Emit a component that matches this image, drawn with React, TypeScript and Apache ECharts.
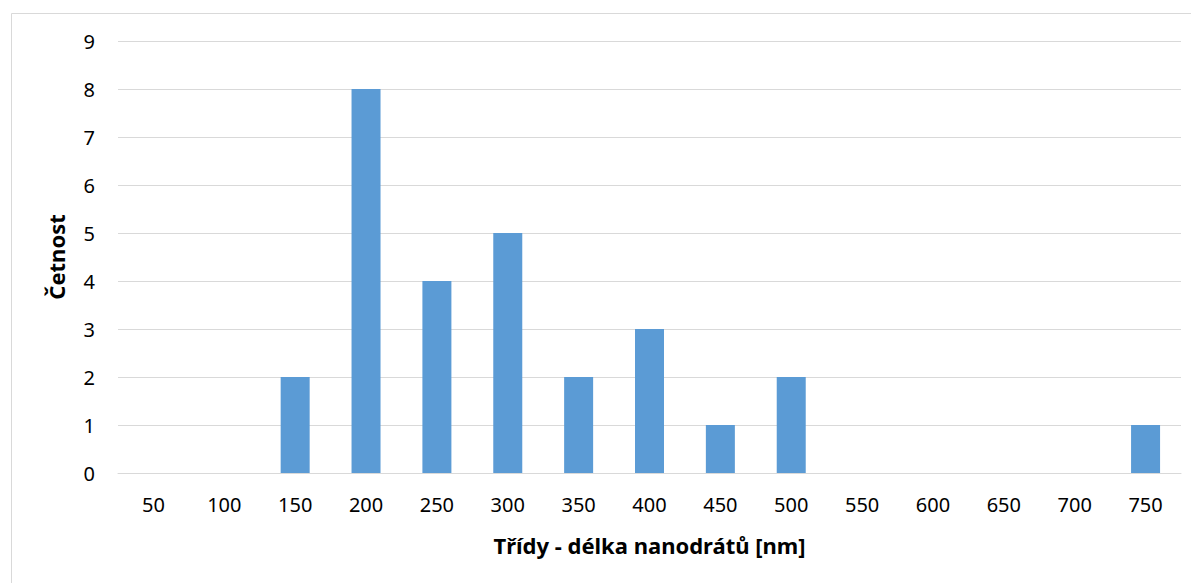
import React, { useEffect, useRef } from "react";
import * as echarts from "echarts";

const categories = ["50", "100", "150", "200", "250", "300", "350", "400", "450", "500", "550", "600", "650", "700", "750"];
const counts = [0, 0, 2, 8, 4, 5, 2, 3, 1, 2, 0, 0, 0, 0, 1];
const xTitle = "Třídy - délka nanodrátů [nm]";
const yTitle = "Četnost";

export default function App() {
  const ref = useRef<HTMLDivElement>(null);
  useEffect(() => {
    const chart = echarts.init(ref.current!, null, { renderer: "svg" });
    const font = "'Noto Sans', sans-serif";
    chart.setOption({
      animation: false,
      backgroundColor: "#ffffff",
      graphic: [
        {
          type: "rect",
          left: 1,
          top: 3,
          shape: { width: 1300, height: 700 },
          style: { fill: "none", stroke: "#d9d9d9", lineWidth: 1 },
          silent: true,
        },
      ],
      grid: { left: 110, right: 18, top: 33, bottom: 110, containLabel: false },
      xAxis: {
        type: "category",
        data: categories,
        name: xTitle,
        nameLocation: "middle",
        nameGap: 61,
        nameTextStyle: { fontFamily: font, fontSize: 22, fontWeight: "bold", color: "#000" },
        axisLine: { show: true, lineStyle: { color: "#d9d9d9", width: 1 } },
        axisTick: { show: false },
        axisLabel: { fontFamily: font, fontSize: 20, color: "#000", margin: 21 },
      },
      yAxis: {
        type: "value",
        min: 0,
        max: 9,
        interval: 1,
        name: yTitle,
        nameLocation: "middle",
        nameGap: 51,
        nameTextStyle: { fontFamily: font, fontSize: 22, fontWeight: "bold", color: "#000" },
        axisLine: { show: false },
        axisTick: { show: false },
        axisLabel: { fontFamily: font, fontSize: 20, color: "#000", margin: 23 },
        splitLine: { lineStyle: { color: "#d9d9d9", width: 1 } },
      },
      series: [
        {
          type: "bar",
          data: counts,
          barWidth: 29,
          itemStyle: { color: "#5b9bd5" },
        },
      ],
    });
    return () => chart.dispose();
  }, []);
  return <div ref={ref} style={{ width: 1191, height: 575 }} />;
}
